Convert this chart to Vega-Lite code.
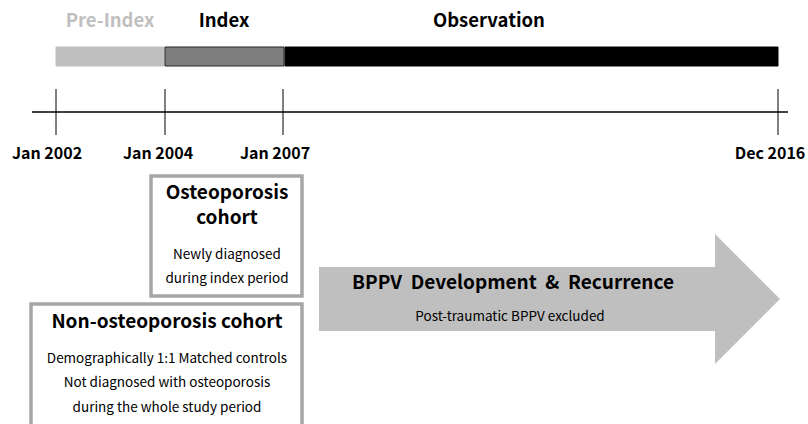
{
  "$schema": "https://vega.github.io/schema/vega-lite/v6.json",
  "width": 808,
  "height": 424,
  "autosize": {"type": "fit", "contains": "padding"},
  "padding": 0,
  "background": "#ffffff",
  "config": {"view": {"stroke": null}, "text": {"font": "Noto Sans CJK KR"}},
  "datasets": {
    "periods": [
      {"period": "Pre-Index", "start": 56, "end": 164, "mid": 110},
      {"period": "Index", "start": 165, "end": 284, "mid": 224},
      {"period": "Observation", "start": 285, "end": 778, "mid": 489}
    ],
    "timeline": [{"from": 32, "to": 788, "level": 112}],
    "dates": [
      {"label": "Jan 2002", "pos": 56, "labelPos": 47},
      {"label": "Jan 2004", "pos": 165, "labelPos": 158},
      {"label": "Jan 2007", "pos": 283, "labelPos": 275},
      {"label": "Dec 2016", "pos": 778, "labelPos": 770}
    ],
    "boxes": [
      {"box": "Osteoporosis cohort", "left": 151, "right": 302, "top": 176, "bottom": 296},
      {"box": "Non-osteoporosis cohort", "left": 31, "right": 302, "top": 304, "bottom": 440}
    ],
    "boxTitles": [
      {"text": "Osteoporosis", "cx": 227, "cy": 193},
      {"text": "cohort", "cx": 227, "cy": 218},
      {"text": "Non-osteoporosis cohort", "cx": 167, "cy": 322}
    ],
    "boxNotes": [
      {"text": "Newly diagnosed", "cx": 227, "cy": 255},
      {"text": "during index period", "cx": 227, "cy": 279},
      {"text": "Demographically 1:1 Matched controls", "cx": 167, "cy": 359},
      {"text": "Not diagnosed with osteoporosis", "cx": 167, "cy": 383},
      {"text": "during the whole study period", "cx": 167, "cy": 408}
    ],
    "arrowBody": [{"left": 319, "right": 716, "upper": 267, "lower": 331}],
    "arrowHead": [
      {"px": 715, "upper": 234, "lower": 364},
      {"px": 780, "upper": 299, "lower": 299}
    ],
    "arrowTitle": [{"text": "BPPV\u00a0 Development\u00a0 &\u00a0 Recurrence", "cx": 513, "cy": 283}],
    "arrowNote": [{"text": "Post-traumatic BPPV excluded", "cx": 510, "cy": 317}]
  },
  "layer": [
    {
      "data": {"name": "arrowBody"},
      "mark": {"type": "rect", "color": "#bfbfbf"},
      "encoding": {
        "x": {"field": "left", "type": "quantitative", "scale": {"domain": [0, 808], "nice": false, "zero": false}, "axis": null},
        "x2": {"field": "right"},
        "y": {"field": "upper", "type": "quantitative", "scale": {"domain": [0, 424], "nice": false, "zero": false, "reverse": true}, "axis": null},
        "y2": {"field": "lower"}
      }
    },
    {
      "data": {"name": "arrowHead"},
      "mark": {"type": "area", "orient": "vertical", "color": "#bfbfbf"},
      "encoding": {
        "x": {"field": "px", "type": "quantitative"},
        "y": {"field": "upper", "type": "quantitative"},
        "y2": {"field": "lower"}
      }
    },
    {
      "data": {"name": "periods"},
      "mark": {"type": "rect", "strokeWidth": 1},
      "encoding": {
        "x": {"field": "start", "type": "quantitative"},
        "x2": {"field": "end"},
        "y": {"datum": 47, "type": "quantitative"},
        "y2": {"datum": 66},
        "fill": {"field": "period", "type": "nominal", "scale": {"domain": ["Pre-Index", "Index", "Observation"], "range": ["#bfbfbf", "#7f7f7f", "#000000"]}, "legend": null},
        "stroke": {"field": "period", "type": "nominal", "scale": {"domain": ["Pre-Index", "Index", "Observation"], "range": ["#bfbfbf", "#262626", "#000000"]}, "legend": null}
      }
    },
    {
      "data": {"name": "periods"},
      "mark": {"type": "text", "fontSize": 18.5, "fontWeight": "bold", "baseline": "middle", "align": "center"},
      "encoding": {
        "x": {"field": "mid", "type": "quantitative"},
        "y": {"datum": 21, "type": "quantitative"},
        "text": {"field": "period"},
        "color": {"field": "period", "type": "nominal", "scale": {"domain": ["Pre-Index", "Index", "Observation"], "range": ["#bfbfbf", "#000000", "#000000"]}, "legend": null}
      }
    },
    {
      "data": {"name": "timeline"},
      "mark": {"type": "rule", "color": "#000000", "strokeWidth": 1.5},
      "encoding": {
        "x": {"field": "from", "type": "quantitative"},
        "x2": {"field": "to"},
        "y": {"field": "level", "type": "quantitative"}
      }
    },
    {
      "data": {"name": "dates"},
      "mark": {"type": "rule", "color": "#000000", "strokeWidth": 1},
      "encoding": {
        "x": {"field": "pos", "type": "quantitative"},
        "y": {"datum": 89, "type": "quantitative"},
        "y2": {"datum": 135}
      }
    },
    {
      "data": {"name": "dates"},
      "mark": {"type": "text", "fontSize": 16, "fontWeight": "bold", "baseline": "middle", "align": "center", "color": "#000000"},
      "encoding": {
        "x": {"field": "labelPos", "type": "quantitative"},
        "y": {"datum": 154, "type": "quantitative"},
        "text": {"field": "label"}
      }
    },
    {
      "data": {"name": "boxes"},
      "mark": {"type": "rect", "fill": "#ffffff", "stroke": "#a6a6a6", "strokeWidth": 3.5, "clip": true},
      "encoding": {
        "x": {"field": "left", "type": "quantitative"},
        "x2": {"field": "right"},
        "y": {"field": "top", "type": "quantitative"},
        "y2": {"field": "bottom"}
      }
    },
    {
      "data": {"name": "boxTitles"},
      "mark": {"type": "text", "fontSize": 19, "fontWeight": "bold", "baseline": "middle", "align": "center", "color": "#000000"},
      "encoding": {
        "x": {"field": "cx", "type": "quantitative"},
        "y": {"field": "cy", "type": "quantitative"},
        "text": {"field": "text"}
      }
    },
    {
      "data": {"name": "boxNotes"},
      "mark": {"type": "text", "fontSize": 13.5, "baseline": "middle", "align": "center", "color": "#000000"},
      "encoding": {
        "x": {"field": "cx", "type": "quantitative"},
        "y": {"field": "cy", "type": "quantitative"},
        "text": {"field": "text"}
      }
    },
    {
      "data": {"name": "arrowTitle"},
      "mark": {"type": "text", "fontSize": 19, "fontWeight": "bold", "baseline": "middle", "align": "center", "color": "#000000"},
      "encoding": {
        "x": {"field": "cx", "type": "quantitative"},
        "y": {"field": "cy", "type": "quantitative"},
        "text": {"field": "text"}
      }
    },
    {
      "data": {"name": "arrowNote"},
      "mark": {"type": "text", "fontSize": 13.5, "baseline": "middle", "align": "center", "color": "#000000"},
      "encoding": {
        "x": {"field": "cx", "type": "quantitative"},
        "y": {"field": "cy", "type": "quantitative"},
        "text": {"field": "text"}
      }
    }
  ]
}
